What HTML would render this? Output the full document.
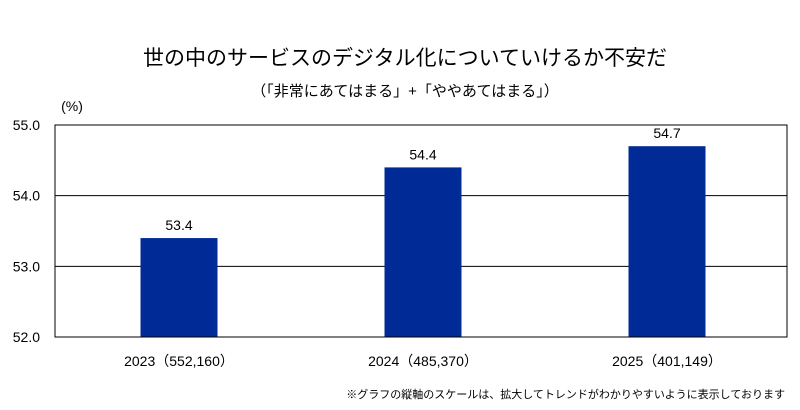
<!DOCTYPE html>
<html><head><meta charset="utf-8"><style>
body{margin:0;background:#fff;width:800px;height:405px;overflow:hidden;font-family:"Liberation Sans","Noto Sans CJK JP",sans-serif;}
</style></head><body>
<svg id="c" width="800" height="405" xmlns="http://www.w3.org/2000/svg" font-family="Liberation Sans, Noto Sans CJK JP, sans-serif">
<text x="405" y="65" font-size="21" text-anchor="middle" fill="#000">世の中のサービスのデジタル化についていけるか不安だ</text>
<text x="405" y="96" font-size="15" text-anchor="middle" fill="#000">（「非常にあてはまる」+「ややあてはまる」）</text>
<text x="72" y="111" font-size="14" text-anchor="middle" fill="#000">(%)</text>
<text x="785" y="398" font-size="11" text-anchor="end" fill="#000">※グラフの縦軸のスケールは、拡大してトレンドがわかりやすいように表示しております</text>
<g id="plot"></g>
</svg>
<script>
const categories=["2023（552,160）","2024（485,370）","2025（401,149）"];
const values=[53.4,54.4,54.7];
const valueLabels=["53.4","54.4","54.7"];
const ticks=[52.0,53.0,54.0,55.0];
const tickLabels=["52.0","53.0","54.0","55.0"];
const L=55,R=787,T=125,B=337,yMin=52,yMax=55;
const ns="http://www.w3.org/2000/svg";
const g=document.getElementById("plot");
function y(v){return B-(v-yMin)/(yMax-yMin)*(B-T);}
const band=(R-L)/categories.length;
function xc(i){return L+band*(i+0.5)+2;}
function mk(t,a){const e=document.createElementNS(ns,t);for(const k in a)e.setAttribute(k,a[k]);g.appendChild(e);return e;}
ticks.forEach((t,i)=>{
 const ln=mk("line",{x1:L,x2:R,y1:y(t),y2:y(t),stroke:"#000","stroke-width":1});
 
 
 const tx=mk("text",{x:40,y:y(t)+5,"font-size":14,"text-anchor":"end",fill:"#000"});
 tx.textContent=tickLabels[i];
 
 
});
const bw=77;
values.forEach((v,i)=>{
 const r=mk("rect",{x:xc(i)-bw/2,y:y(v),width:bw,height:B-y(v),fill:"#002b96"});
 
 
 const vl=mk("text",{x:xc(i),y:y(v)-8,"font-size":14,"text-anchor":"middle",fill:"#000"});
 vl.textContent=valueLabels[i];
 
 
 const cl=mk("text",{x:xc(i),y:366,"font-size":14,"text-anchor":"middle",fill:"#000"});
 cl.textContent=categories[i];
 
 
});
const fr=mk("rect",{x:L,y:T,width:R-L,height:B-T,fill:"none",stroke:"#000","stroke-width":1});


</script>
</body></html>
